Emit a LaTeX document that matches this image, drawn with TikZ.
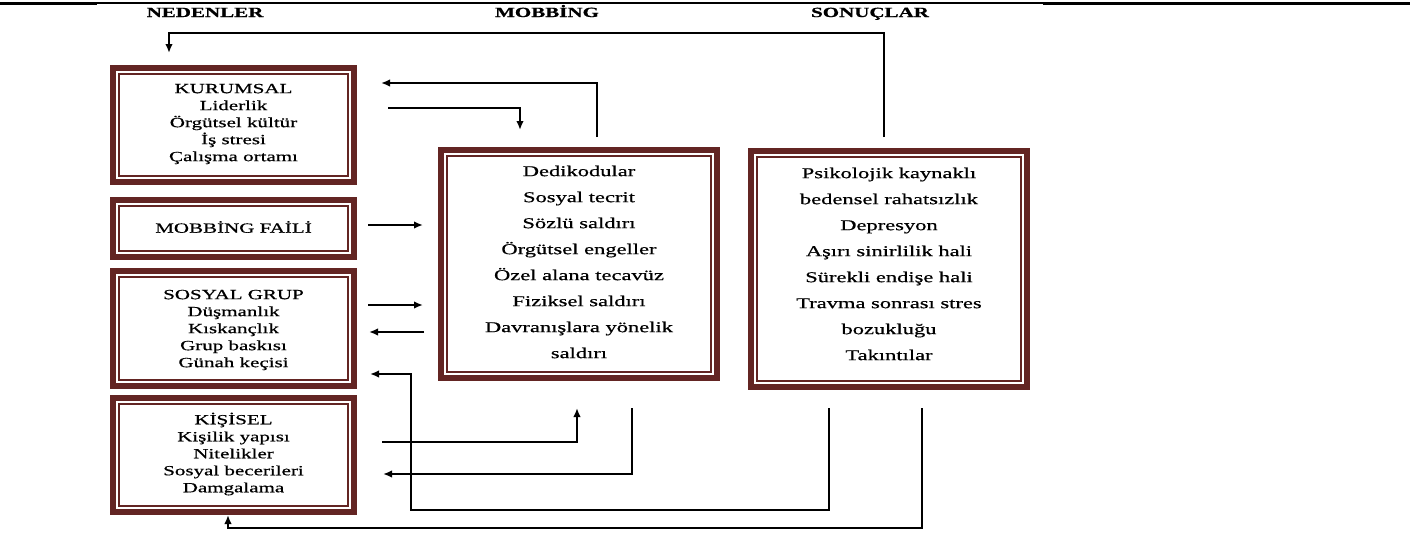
\documentclass[tikz,border=0pt]{standalone}
\usepackage{fontspec}
\setmainfont{Liberation Serif}[FakeStretch=1.5, UprightFeatures={FakeBold=0.6}, BoldFeatures={FakeBold=0.8}]
\usetikzlibrary{arrows.meta}
\definecolor{boxred}{RGB}{99,37,35}
\tikzset{
  framebox/.style={draw=boxred, line width=6pt, rectangle, inner sep=0pt, outer sep=0pt, fill=white},
  innerframe/.style={draw=boxred, line width=1.3pt},
  lefttext/.style={align=center, inner sep=0pt, font=\fontsize{14}{17}\selectfont},
  midtext/.style={align=center, inner sep=0pt, font=\fontsize{15}{26}\selectfont},
  headtext/.style={anchor=base, inner sep=0pt, font=\fontsize{14}{17}\selectfont\bfseries},
  conn/.style={draw=black, line width=2pt, line join=miter},
  arr/.style={conn, -{Latex[length=9pt,width=7.5pt]}}
}
\newcommand{\innerbox}[1]{\draw[innerframe] ([shift={(6pt,-6pt)}]#1.north west) rectangle ([shift={(-6pt,6pt)}]#1.south east);}
\begin{document}
\begin{tikzpicture}[x=1pt,y=-1pt]
\useasboundingbox (0,0) rectangle (1410,544);
% top rule
\draw[line width=3pt] (0,3.5) -- (97,3.5);
\draw[line width=1.2pt] (97,3) -- (1043,3);
\draw[line width=3pt] (1043,3.5) -- (1410,3.5);
% headers
\node[headtext] (hned) at (205,17) {NEDENLER};
\node[headtext] (hmob) at (547,17) {MOBBİNG};
\node[headtext] (hson) at (870,17) {SONUÇLAR};
% boxes
\node[framebox, minimum width=241pt, minimum height=114pt] (kur) at (233.5,125) {};
\node[framebox, minimum width=241pt, minimum height=57pt] (fail) at (233.5,228.5) {};
\node[framebox, minimum width=241pt, minimum height=115pt] (sos) at (233.5,328.5) {};
\node[framebox, minimum width=241pt, minimum height=114pt] (kis) at (233.5,455) {};
\node[framebox, minimum width=276pt, minimum height=228pt] (mob) at (579,264) {};
\node[framebox, minimum width=276pt, minimum height=236pt] (son) at (889,269) {};
\innerbox{kur}\innerbox{fail}\innerbox{sos}\innerbox{kis}\innerbox{mob}\innerbox{son}
% texts
\node[lefttext] (kurT) at (233.5,124) {KURUMSAL\\Liderlik\\Örgütsel kültür\\İş stresi\\Çalışma ortamı};
\node[lefttext] (failT) at (233.5,227) {MOBBİNG FAİLİ};
\node[lefttext] (sosT) at (233.5,330) {SOSYAL GRUP\\Düşmanlık\\Kıskançlık\\Grup baskısı\\Günah keçisi};
\node[lefttext] (kisT) at (233.5,454) {KİŞİSEL\\Kişilik yapısı\\Nitelikler\\Sosyal becerileri\\Damgalama};
\node[midtext] (mobT) at (579,262) {Dedikodular\\Sosyal tecrit\\Sözlü saldırı\\Örgütsel engeller\\Özel alana tecavüz\\Fiziksel saldırı\\Davranışlara yönelik\\saldırı};
\node[midtext] (sonT) at (889,264) {Psikolojik kaynaklı\\bedensel rahatsızlık\\Depresyon\\Aşırı sinirlilik hali\\Sürekli endişe hali\\Travma sonrası stres\\bozukluğu\\Takıntılar};
% connector end points
\coordinate (sonTop) at (884,137);
\coordinate (nedIn) at (169,53);
\coordinate (mobTopL) at (597,137);
\coordinate (kurInA) at (381,83);
\coordinate (kurOut) at (388,108);
\coordinate (mobInA) at (520,130);
\coordinate (failOut) at (368,225);
\coordinate (mobInB) at (423,225);
\coordinate (sosOut) at (368,305);
\coordinate (mobInC) at (423,305);
\coordinate (mobOutC) at (424,332);
\coordinate (sosInA) at (369,332);
\coordinate (sonBotL) at (829,408);
\coordinate (sosInB) at (370,374);
\coordinate (kisOut) at (382,442);
\coordinate (mobInD) at (577,408);
\coordinate (mobBot) at (632,408);
\coordinate (kisInA) at (383,474);
\coordinate (sonBotR) at (922,408);
\coordinate (kisInB) at (228,515);
% connectors
\draw[arr] (sonTop) -- (884,33) -- (169,33) -- (nedIn);
\draw[arr] (mobTopL) -- (597,83) -- (kurInA);
\draw[arr] (kurOut) -- (520,108) -- (mobInA);
\draw[arr] (failOut) -- (mobInB);
\draw[arr] (sosOut) -- (mobInC);
\draw[arr] (mobOutC) -- (sosInA);
\draw[arr] (sonBotL) -- (829,510) -- (411,510) -- (411,374) -- (sosInB);
\draw[arr] (kisOut) -- (577,442) -- (mobInD);
\draw[arr] (mobBot) -- (632,474) -- (kisInA);
\draw[arr] (sonBotR) -- (922,528) -- (228,528) -- (kisInB);
\end{tikzpicture}
\end{document}
